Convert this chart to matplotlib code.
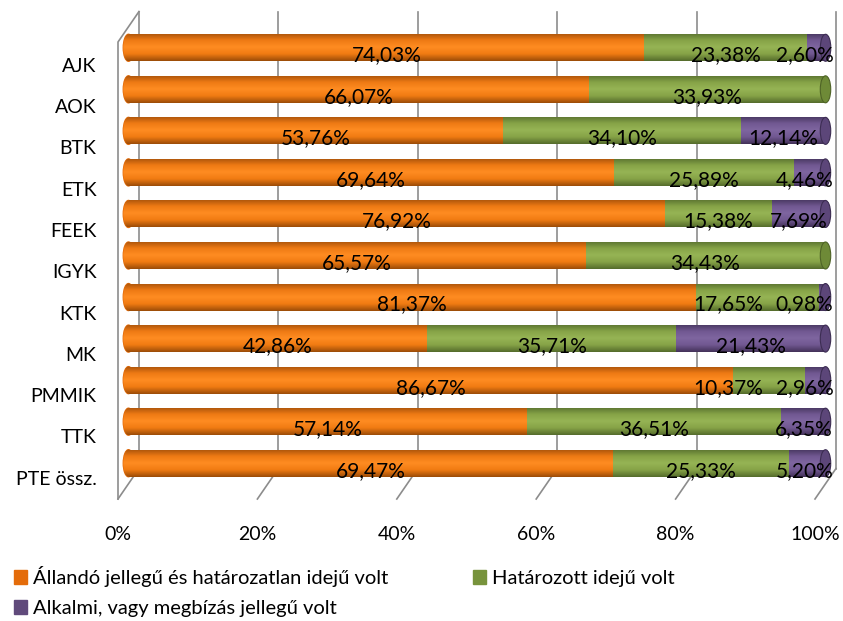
import matplotlib
matplotlib.use("Agg")
import matplotlib.pyplot as plt
import numpy as np
from matplotlib.colors import LinearSegmentedColormap
from matplotlib.patches import Ellipse, Patch
from matplotlib.transforms import ScaledTranslation

plt.rcParams['font.family'] = ['Lato', 'DejaVu Sans']

categories = ['AJK', 'AOK', 'BTK', 'ETK', 'FEEK', 'IGYK', 'KTK', 'MK', 'PMMIK', 'TTK', 'PTE össz.']
allando = [74.03, 66.07, 53.76, 69.64, 76.92, 65.57, 81.37, 42.86, 86.67, 57.14, 69.47]
hatarozott = [23.38, 33.93, 34.10, 25.89, 15.38, 34.43, 17.65, 35.71, 10.37, 36.51, 25.33]
alkalmi = [2.60, 0.0, 12.14, 4.46, 7.69, 0.0, 0.98, 21.43, 2.96, 6.35, 5.20]
series_names = ['Állandó jellegű és határozatlan idejű volt',
                'Határozott idejű volt',
                'Alkalmi, vagy megbízás jellegű volt']
xticks = [0, 20, 40, 60, 80, 100]
xtick_labels = ['0%', '20%', '40%', '60%', '80%', '100%']

legend_colors = ['#E46C0A', '#77933C', '#604A7B']
grad_colors = [
    ['#A9530B', '#EE7A14', '#FF8C22', '#F07B12', '#9C4C08'],
    ['#5A7230', '#86A347', '#96B455', '#86A347', '#556C2C'],
    ['#47365F', '#715891', '#7F66A0', '#715891', '#433259'],
]
cap_colors = [('#C4620F', '#8A450A'), ('#6E8A37', '#4E6326'), ('#5C4679', '#3C2D52')]

fig = plt.figure(figsize=(8.43, 6.21), dpi=100)
W, H = 843, 621
# data -> pixel scale: x 0..100 -> 128.5..825.5, rows 41.55 px
pxx = 697 / 100
pxy = 457 / 11
xmin, xmax = -2, 102
ymin, ymax = -1, 11
left = 128.5 + xmin * pxx
top = 27 + (ymin + 0.5) * pxy
ax = fig.add_axes([left / W, 1 - (top + (ymax - ymin) * pxy) / H,
                   (xmax - xmin) * pxx / W, (ymax - ymin) * pxy / H])

# 3D offsets of back wall and front plane, in data units
dxb, dyb = 10.5 / pxx, 15.5 / pxy
dxf, dyf = -10.5 / pxx, 15.0 / pxy
gc = '#8C8C8C'
for x in xticks:
    ax.plot([x + dxb, x + dxb], [-0.5 - dyb, 10.5 - dyb], color=gc, lw=1.2, zorder=1)
    ax.plot([x + dxb, x + dxf], [10.5 - dyb, 10.5 + dyf], color=gc, lw=1.2, zorder=1)
ax.plot([dxb, dxf, dxf], [-0.5 - dyb, -0.5 + dyf, 10.5 + dyf], color=gc, lw=1.2, zorder=1)

grad = np.linspace(0, 1, 64).reshape(-1, 1)
bh = 0.65
ypos = np.arange(len(categories))
data = [allando, hatarozott, alkalmi]
cmaps = [LinearSegmentedColormap.from_list('c%d' % i, c) for i, c in enumerate(grad_colors)]


def shade(patch, cmap, x0, x1, y0, y1):
    im = ax.imshow(grad, cmap=cmap, aspect='auto', extent=(x0, x1, y1, y0),
                   interpolation='bilinear', zorder=patch.get_zorder() + 0.1)
    im.set_clip_path(patch)


cap_w = 1.5
lefts = np.zeros(len(categories))
for s, vals in enumerate(data):
    vals = np.array(vals)
    bars = ax.barh(ypos, vals, left=lefts, height=bh, color=legend_colors[s], zorder=3)
    for b, v in zip(bars, vals):
        if v <= 0:
            continue
        shade(b, cmaps[s], b.get_x(), b.get_x() + b.get_width(), b.get_y(), b.get_y() + b.get_height())
    lefts = lefts + vals

# rounded start and flat end faces of the cylinders
for i, y in enumerate(ypos):
    e = Ellipse((0, y), cap_w, bh, color=legend_colors[0], zorder=2.5)
    ax.add_patch(e)
    shade(e, cmaps[0], -cap_w / 2, cap_w / 2, y - bh / 2, y + bh / 2)
    last = 2 if alkalmi[i] > 0 else 1
    fc, ec = cap_colors[last]
    ax.add_patch(Ellipse((lefts[i], y), cap_w, bh, facecolor=fc, edgecolor=ec, lw=0.8, zorder=4))

# value labels (nudged left near the end of the bar, as the original does)
fmt = lambda v: f"{v:.2f}".replace('.', ',') + '%'
for i in range(len(categories)):
    c0 = allando[i] / 2
    c1 = allando[i] + hatarozott[i] / 2
    c2 = min(allando[i] + hatarozott[i] + alkalmi[i] / 2, 97)
    if alkalmi[i] > 0:
        c1 = min(c1, c2 - 11)
    for cx, v in zip([c0, c1, c2], [allando[i], hatarozott[i], alkalmi[i]]):
        if v > 0:
            ax.text(cx, ypos[i] + 0.18, fmt(v), ha='center', va='center',
                    fontsize=15, color='black', zorder=6)

ax.set_xlim(xmin, xmax)
ax.set_ylim(ymax, ymin)
ax.set_yticks(ypos)
ax.set_yticklabels(categories, fontsize=14)
ax.set_xticks(xticks)
ax.set_xticklabels(xtick_labels, fontsize=14)
ax.tick_params(length=0)
ax.tick_params(axis='y', pad=13)
ax.tick_params(axis='x', pad=15.5)
for i, lab in enumerate(ax.get_yticklabels()):
    off = (17 - 0.25 * i) / 100
    lab.set_transform(lab.get_transform() + ScaledTranslation(0, -off, fig.dpi_scale_trans))
for lab in ax.get_xticklabels():
    lab.set_transform(lab.get_transform() + ScaledTranslation(-0.105, 0, fig.dpi_scale_trans))
for sp in ax.spines.values():
    sp.set_visible(False)

handles = [Patch(color=legend_colors[i]) for i in range(3)]
order = [0, 2, 1]
fig.legend([handles[i] for i in order], [series_names[i] for i in order],
           loc='upper left', bbox_to_anchor=(14 / W, 1 - 566 / H), ncol=2,
           frameon=False, fontsize=14.5, handlelength=0.65, handleheight=0.65,
           handletextpad=0.3, columnspacing=4.2, labelspacing=0.65,
           borderpad=0, borderaxespad=0)

fig.savefig('out.png', dpi=100, facecolor='white')
